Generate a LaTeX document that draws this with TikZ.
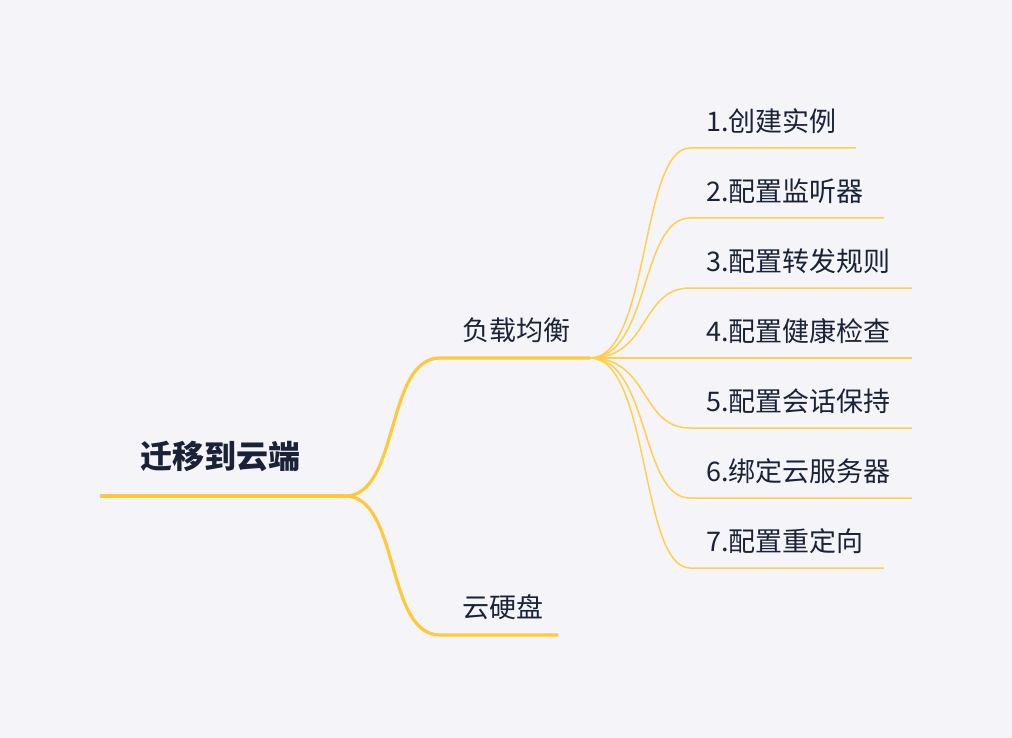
\documentclass[tikz,border=0pt]{standalone}
\usepackage{fontspec}
\setmainfont{Noto Sans CJK SC}
\begin{document}
\begin{tikzpicture}[x=1pt,y=-1pt,
  txt/.style={text=textc,font=\fontsize{27}{31}\selectfont,anchor=west,inner sep=0},
  mainline/.style={draw=mainc,line width=3.2pt},
  leafline/.style={draw=leafc,line width=1.5pt}]
\definecolor{bgc}{HTML}{F5F5F9}
\definecolor{mainc}{HTML}{FFC93C}
\definecolor{leafc}{HTML}{FFCF4D}
\definecolor{textc}{HTML}{1A2238}
\fill[bgc] (0,0) rectangle (1012,738);
\useasboundingbox (0,0) rectangle (1012,738);
% root
\coordinate (r0) at (100,496);
\coordinate (r1) at (345,496);
\node[txt,font=\fontsize{32}{36}\selectfont\bfseries] (root) at (140,456) {迁移到云端};
\draw[mainline] (r0) -- (r1);
% branches
\coordinate (a0) at (440,358); \coordinate (a1) at (590,358);
\node[txt] (a) at (462,330) {负载均衡};
\draw[mainline] (r1) .. controls (400,496) and (385,358) .. (a0) -- (a1);
\coordinate (b0) at (440,635); \coordinate (b1) at (558,635);
\node[txt] (b) at (462,607) {云硬盘};
\draw[mainline] (r1) .. controls (400,496) and (385,635) .. (b0) -- (b1);
% leaves
\foreach \i/\y/\e/\t in {1/148/856/1.创建实例,2/218/884/2.配置监听器,3/288/912/3.配置转发规则,4/358/912/4.配置健康检查,5/428/912/5.配置会话保持,6/498/912/6.绑定云服务器,7/568/884/7.配置重定向}{
  \coordinate (l\i s) at (690,\y);
  \coordinate (l\i e) at (\e,\y);
  \node[txt] (l\i) at (706,\y-27) {\t};
  \draw[leafline] (a1) .. controls (650,358) and (640,\y) .. (l\i s) -- (l\i e);
}
\end{tikzpicture}
\end{document}
